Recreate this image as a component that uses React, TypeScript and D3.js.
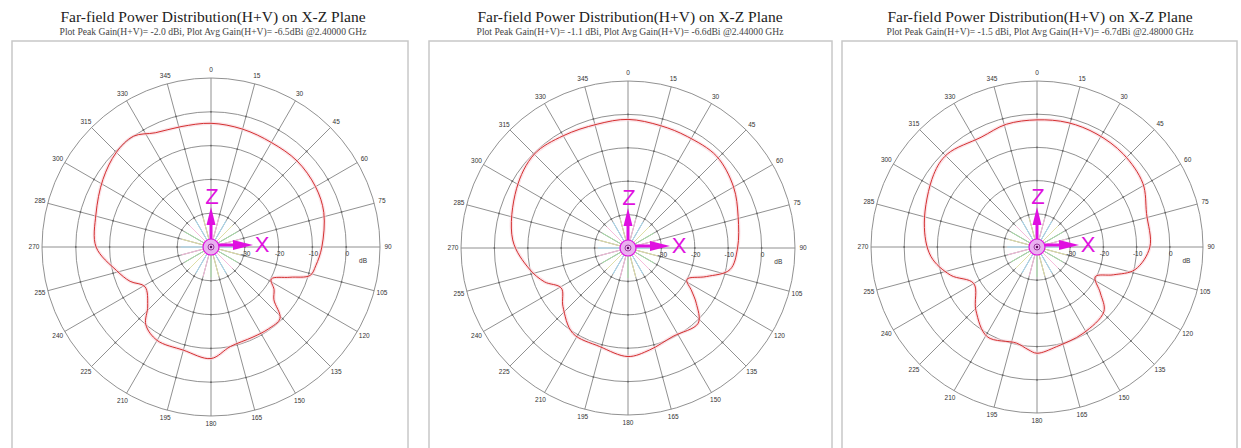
import React from "react";
import * as d3 from "d3";

// ---------- data ----------
const titles = [
  "Far-field Power Distribution(H+V) on X-Z Plane",
  "Far-field Power Distribution(H+V) on X-Z Plane",
  "Far-field Power Distribution(H+V) on X-Z Plane",
];
const subtitles = [
  "Plot Peak Gain(H+V)= -2.0 dBi, Plot Avg Gain(H+V)= -6.5dBi @2.40000 GHz",
  "Plot Peak Gain(H+V)= -1.1 dBi, Plot Avg Gain(H+V)= -6.6dBi @2.44000 GHz",
  "Plot Peak Gain(H+V)= -1.5 dBi, Plot Avg Gain(H+V)= -6.7dBi @2.48000 GHz",
];
const angleTicks = d3.range(0, 360, 15);
const ringTicks = [-30, -20, -10, 0, 10];
const ringLabels = ["-30", "-20", "-10", "0"];

const angles1 = [0, 15, 30, 45, 60, 73, 90, 100, 106, 111, 118, 124, 130, 136, 145, 155, 169, 180, 195, 210, 220, 227, 239, 247, 256, 270, 286, 302, 315, 325, 334, 346];
const gains1 = [-3.4, -3.9, -4.3, -4.0, -4.3, -5.1, -7.2, -8.5, -9.5, -15, -19.8, -17.5, -15.7, -10.6, -10.4, -10.6, -10, -7, -8.4, -8.1, -10, -14.4, -17.2, -14, -11.2, -6, -4.6, -2.3, -0.4, 0, -2.4, -3.3];

const angles2 = [0, 15, 28, 44, 60, 74, 90, 102, 110, 118, 124, 129, 137, 153, 168, 180, 196, 213, 228, 239, 248, 258, 274, 298, 315, 330, 346];
const gains2 = [-1.5, -2.1, -2.2, -1.8, -3.5, -5.7, -7.2, -8.8, -15, -20, -17, -13.7, -9.2, -10.3, -8.8, -7.5, -9.3, -9.6, -13.8, -16.7, -13, -9.8, -5.4, -2.2, -0.3, -1.2, -1.8];

const angles3 = [0, 14, 28, 43, 59, 73, 90, 103, 110, 117, 126, 134, 152, 169, 180, 185, 192, 209, 224, 240, 252, 265, 282, 305, 316, 333, 346];
const gains3 = [-1.7, -1.4, -1.5, -1.8, -2.8, -5.5, -6, -9.7, -15.5, -20.3, -16.4, -12, -10.5, -9.4, -8, -9, -10.4, -9.1, -13.5, -18, -12.6, -7.9, -5.3, -2, -1.1, -2.9, -1.9];

const seriesAngles = [angles1, angles2, angles3];
const seriesGains = [gains1, gains2, gains3];

// ---------- layout ----------
const W = 1241;
const H = 448;
const panels = [
  { bx: 12, bw: 396, cx: 211, cy: 247, R: 169, tx: 213 },
  { bx: 429, bw: 403, cx: 628, cy: 248, R: 167, tx: 630 },
  { bx: 842, bw: 395, cx: 1037, cy: 247, R: 166, tx: 1040 },
];
const MAG = "#e010e0";
const innerColors = ["#a8e0a8", "#f6bcdc", "#a8dcf4", "#e0e0a8"];

function Panel({ idx }: { idx: number }) {
  const p = panels[idx];
  const r = d3.scaleLinear().domain([-40, 10]).range([0, p.R]);
  const rad = (a: number) => (a * Math.PI) / 180;
  const pts = seriesAngles[idx].map((a, i) => [rad(a), r(seriesGains[idx][i])] as [number, number]);
  const line = d3
    .lineRadial<[number, number]>()
    .angle((d) => d[0])
    .radius((d) => d[1])
    .curve(d3.curveCatmullRomClosed.alpha(0.5));
  const path = line(pts) || "";
  const pos = (a: number, rr: number) => [Math.sin(rad(a)) * rr, -Math.cos(rad(a)) * rr];
  return (
    <g>
      <rect x={p.bx} y={41} width={p.bw} height={430} fill="#fff" stroke="#c8c8c8" strokeWidth={1.5} />
      <text x={p.tx} y={22} textAnchor="middle" fontFamily="Liberation Serif, serif" fontSize={15.5} fill="#222">
        {titles[idx]}
      </text>
      <text x={p.tx} y={35} textAnchor="middle" fontFamily="Liberation Serif, serif" fontSize={9.6} fill="#444">
        {subtitles[idx]}
      </text>
      <g transform={`translate(${p.cx},${p.cy})`}>
        {ringTicks.map((t) => (
          <circle key={t} r={r(t)} fill="none" stroke="#858585" strokeWidth={0.9} />
        ))}
        {angleTicks.map((a) => {
          const [x2, y2] = pos(a, p.R);
          return <line key={a} x1={0} y1={0} x2={x2} y2={y2} stroke="#858585" strokeWidth={0.9} />;
        })}
        {angleTicks.map((a, i) => {
          const [x1, y1] = pos(a, 8);
          const [x2, y2] = pos(a, r(-31));
          return (
            <line key={"c" + a} x1={x1} y1={y1} x2={x2} y2={y2} stroke={innerColors[i % 4]} strokeWidth={1} />
          );
        })}
        {angleTicks.map((a) =>
          ringTicks.slice(0, 4).map((t) => {
            const [x, y] = pos(a, r(t));
            return <circle key={a + "_" + t} cx={x} cy={y} r={0.9} fill="#666" />;
          })
        )}
        {angleTicks.map((a) => {
          const [x, y] = pos(a, p.R + 8);
          return (
            <text key={"l" + a} x={x} y={y} dy="0.35em" textAnchor="middle" fontFamily="Liberation Sans, Arial, sans-serif" fontSize={6.5} fill="#333">
              {a}
            </text>
          );
        })}
        {ringLabels.map((l, i) => (
          <text key={"r" + l} x={r(ringTicks[i]) + 1} y={9} textAnchor="middle" fontFamily="Liberation Sans, Arial, sans-serif" fontSize={6.5} fill="#333">
            {l}
          </text>
        ))}
        <text x={r(5)} y={16} textAnchor="middle" fontFamily="Liberation Sans, Arial, sans-serif" fontSize={6.5} fill="#333">
          dB
        </text>
        <path d={path} fill="none" stroke="#f8d0d8" strokeWidth={3.5} strokeOpacity={0.6} />
        <path d={path} fill="none" stroke="#d43030" strokeWidth={1} />
        {/* axis symbol */}
        <circle r={8} fill="#e9b0f0" stroke={MAG} strokeWidth={1.2} />
        <circle r={3} fill="none" stroke="#8a208a" strokeWidth={0.8} />
        <circle r={1.2} fill="#5a105a" />
        <line x1={0} y1={-8} x2={0} y2={-22} stroke={MAG} strokeWidth={3} />
        <path d="M -4.5 -22 L 4.5 -22 L 0 -40 Z" fill={MAG} />
        <text x={1} y={-43} textAnchor="middle" fontFamily="Liberation Sans, Arial, sans-serif" fontSize={22} fill={MAG}>
          Z
        </text>
        <line x1={8} y1={-2} x2={22} y2={-2} stroke={MAG} strokeWidth={3} />
        <path d="M 22 -7 L 22 3 L 42 -2 Z" fill={MAG} />
        <text x={51} y={5} textAnchor="middle" fontFamily="Liberation Sans, Arial, sans-serif" fontSize={22} fill={MAG}>
          X
        </text>
      </g>
    </g>
  );
}

export default function App() {
  return (
    <div style={{ position: "absolute", left: 0, top: 0 }}>
      <svg width={W} height={H} viewBox={`0 0 ${W} ${H}`} style={{ display: "block", background: "#fff" }}>
        <rect width={W} height={H} fill="#fff" />
        {[0, 1, 2].map((i) => (
          <Panel key={i} idx={i} />
        ))}
      </svg>
    </div>
  );
}
